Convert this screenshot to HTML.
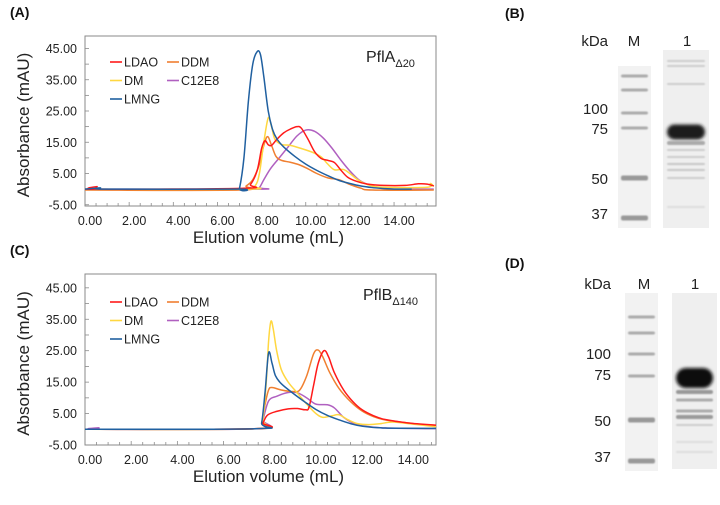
<!DOCTYPE html>
<html><head><meta charset="utf-8">
<style>
html,body{margin:0;padding:0;background:#fff;}
body{width:720px;height:505px;position:relative;overflow:hidden;font-family:"Liberation Sans",sans-serif;}
svg{position:absolute;left:0;top:0;}
</style></head>
<body>
<svg id="fig" width="720" height="505" viewBox="0 0 720 505">
<defs>
<filter id="blur1" x="-20%" y="-50%" width="140%" height="200%"><feGaussianBlur stdDeviation="0.8"/></filter>
<filter id="blur2" x="-20%" y="-80%" width="140%" height="260%"><feGaussianBlur stdDeviation="1.6"/></filter>
</defs>
<g id="chartA"></g>
<g id="chartC"></g>
<g id="gels"></g>
</svg>
<script>
// ---- data: panel A (PflA Δ20) ----
const seriesNames = ["LDAO","DDM","DM","C12E8","LMNG"];
const seriesColors = ["#ff1a1a","#f07f30","#ffd740","#b060c0","#2060a0"];
const xTicks = [0,2,4,6,8,10,12,14];
const yTicks = [-5,5,15,25,35,45];

const A_LDAO = [[0,0],[0.45,0],[0.55,0.8],[0.65,0],[7.2,0.3],[7.5,1.5],[7.8,6],[8.0,13],[8.15,15.5],[8.3,14.2],[8.45,14],[8.7,16],[9.0,18],[9.3,19.2],[9.6,20],[9.8,19.5],[10.1,16],[10.4,12],[10.7,9.8],[11.0,9.2],[11.3,8.5],[11.6,6],[11.9,3.8],[12.3,2.5],[12.8,1.6],[13.5,1.2],[14.5,1.2],[15.1,1.7],[15.5,1.6],[15.8,1.0]];
const A_DDM = [[0,-0.3],[7.0,-0.3],[7.3,1],[7.6,3],[7.9,8],[8.1,14],[8.27,16.8],[8.45,14],[8.65,10.5],[8.9,9.2],[9.3,8.6],[9.7,7.8],[10.1,6.5],[10.5,5],[11,3.6],[11.5,3],[12,1.5],[12.5,0.3],[13,-0.3],[15.8,-0.3]];
const A_DM = [[0,0],[7.3,0],[7.7,1],[7.9,5],[8.1,15],[8.3,22.8],[8.45,20],[8.6,16],[8.9,14.3],[9.3,14],[9.8,13],[10.3,11.8],[10.7,10.3],[11.0,8],[11.3,6.2],[11.7,6.3],[12.0,5],[12.4,2.8],[12.9,1.2],[13.5,0.6],[15.5,0.6],[15.65,1.8],[15.8,0.9]];
const A_C12E8 = [[0,0],[7.7,0],[7.9,0.5],[8.1,3],[8.4,6.5],[8.8,10],[9.2,13.5],[9.6,17],[10,18.9],[10.4,18.5],[10.8,16.3],[11.2,13],[11.6,9.2],[12,5.8],[12.4,3],[12.8,1.5],[13.3,0.5],[14,0],[15.8,0]];
const A_LMNG = [[0,0],[0.5,0.3],[0.7,0.4],[1,0],[6.9,0],[7.0,0.3],[7.2,10],[7.4,28],[7.6,40],[7.8,44],[7.95,43],[8.1,36],[8.3,25],[8.5,19],[8.7,16],[9,13.5],[9.5,10.5],[10,8],[10.5,6],[11,4.3],[11.5,2.8],[12,1.8],[12.5,1],[13,0.5],[13.5,0.2],[14,0],[14.8,0]];

// ---- data: panel C (PflB Δ140) ----
const C_LDAO = [[0,0],[7.5,0.2],[7.7,2],[7.9,4.5],[8.3,5.7],[8.8,6.5],[9.2,6.6],[9.55,6.2],[9.7,7],[9.9,14],[10.1,21],[10.35,25],[10.55,23],[10.8,18],[11.2,12.5],[11.6,8.8],[12,6.2],[12.5,4.3],[13,3.1],[14,2],[15.2,1.3]];
const C_DDM = [[0,0],[7.5,0.2],[7.65,2],[7.8,8],[7.95,12.5],[8.1,13.3],[8.5,12.5],[9,12],[9.3,12.5],[9.6,17],[9.9,24],[10.1,25.2],[10.3,23],[10.6,18],[11,13],[11.5,8.8],[12,5.8],[12.5,4],[13,3],[14,2],[15.2,1]];
const C_DM = [[0,0],[7.5,0.2],[7.7,3],[7.85,15],[7.95,28],[8.05,34.3],[8.15,32],[8.3,25],[8.5,19],[8.8,15],[9.2,11.5],[9.6,8],[10,5],[10.3,3.8],[10.7,4.3],[11.0,4.6],[11.4,3],[11.8,1.8],[12.3,1.5],[12.8,1.8],[13.3,2.3],[14,1.8],[15.2,0.8]];
const C_C12E8 = [[0,0],[0.55,0.1],[0.6,0.5],[0.65,0],[7.5,0.2],[7.7,3],[7.95,9],[8.3,10.5],[8.8,11.7],[9.2,11.6],[9.6,10],[10,8],[10.5,7.8],[10.8,6.8],[11.2,3.8],[11.6,2],[12,1.1],[13,0.4],[15.2,0.2]];
const C_LMNG = [[0,0],[7.5,0.2],[7.65,2],[7.8,12],[7.95,24.3],[8.1,21],[8.25,17],[8.5,14.5],[9,11.5],[9.5,8.8],[10,6.3],[10.5,4.4],[11,3],[11.5,1.8],[12,1],[13,0.4],[15.2,0.3]];

const NS="http://www.w3.org/2000/svg";
function mk(tag, attrs, parent){const e=document.createElementNS(NS,tag);for(const k in attrs)e.setAttribute(k,attrs[k]);parent.appendChild(e);return e;}
function smooth(pts){
  let d="M"+pts[0][0].toFixed(2)+","+pts[0][1].toFixed(2);
  for(let i=0;i<pts.length-1;i++){
    const p0=pts[Math.max(0,i-1)],p1=pts[i],p2=pts[i+1],p3=pts[Math.min(pts.length-1,i+2)];
    const c1=[p1[0]+(p2[0]-p0[0])/6,p1[1]+(p2[1]-p0[1])/6];
    const c2=[p2[0]-(p3[0]-p1[0])/6,p2[1]-(p3[1]-p1[1])/6];
    d+=" C"+c1[0].toFixed(2)+","+c1[1].toFixed(2)+" "+c2[0].toFixed(2)+","+c2[1].toFixed(2)+" "+p2[0].toFixed(2)+","+p2[1].toFixed(2);
  }
  return d;
}

function drawChart(g, cfg){
  const L=85,R=436,T=cfg.top,B=cfg.bottom;
  const sx=v=>L+(v-cfg.xmin)/(cfg.xmax-cfg.xmin)*(R-L);
  const sy=v=>B-(v-cfg.ymin)/(cfg.ymax-cfg.ymin)*(B-T);
  const pl=mk("text",{x:10,y:T-19,"font-size":"14","font-weight":"bold",fill:"#111"},g);
  pl.textContent=cfg.panel;
  
  
  const frame=mk("rect",{x:L,y:T,width:R-L,height:B-T,fill:"#fff",stroke:"#8a8a8a","stroke-width":"1"},g);
  
  
  // x ticks
  for(let v=0;v<=cfg.xmax+1e-6;v+=0.5){
    const x=sx(v);
    mk("line",{x1:x,y1:B,x2:x,y2:B-(Math.abs(v-Math.round(v/2)*2)<1e-6?4:3),stroke:"#8a8a8a","stroke-width":"0.8"},g);
  }
  xTicks.forEach(v=>{
    const t=mk("text",{x:sx(v)+5,y:B+19,"font-size":"12.5","text-anchor":"middle",fill:"#222"},g);
    t.textContent=v.toFixed(2);
    
    
  });
  for(let v=-5;v<=45;v+=5){
    const y=sy(v);
    mk("line",{x1:L,y1:y,x2:L+4,y2:y,stroke:"#8a8a8a","stroke-width":"0.8"},g);
  }
  yTicks.forEach(v=>{
    const t=mk("text",{x:L-8,y:sy(v)+4.5,"font-size":"12.5","text-anchor":"end",fill:"#222"},g);
    t.textContent=v.toFixed(2);
    
    
  });
  const xt=mk("text",{x:(L+R)/2+8,y:B+37,"font-size":"17","text-anchor":"middle",fill:"#222"},g);
  xt.textContent="Elution volume (mL)";
  
  
  const yc=(T+B)/2;
  const yt=mk("text",{x:0,y:0,"font-size":"17","text-anchor":"middle",fill:"#222",transform:"translate(29,"+(yc+4)+") rotate(-90)"},g);
  yt.textContent="Absorbance (mAU)";
  
  
  // series
  const order=[3,1,2,0,4];
  order.forEach(i=>{
    const pts=cfg.series[i].map(p=>[sx(Math.min(p[0],cfg.xmax)),sy(p[1])]);
    const p=mk("path",{d:smooth(pts),fill:"none",stroke:seriesColors[i],"stroke-width":"1.5","stroke-linejoin":"round"},g);
    
    
  });
  // legend
  const lx=[110,167,110,167,110], ly=[0,0,1,1,2];
  seriesNames.forEach((n,i)=>{
    const y=cfg.legTop+ly[i]*18.5;
    const ln=mk("line",{x1:lx[i],y1:y,x2:lx[i]+12,y2:y,stroke:seriesColors[i],"stroke-width":"1.6"},g);
    
    
    const t=mk("text",{x:lx[i]+14,y:y+4.5,"font-size":"12.5",fill:"#222"},g);
    t.textContent=n;
    
    
  });
  const title=mk("text",{x:cfg.titleX,y:T+26,"font-size":"16",fill:"#222"},g);
  title.innerHTML=cfg.title+'<tspan font-size="11" dy="5">'+cfg.sub+'</tspan>';
  
  
}

drawChart(document.getElementById("chartA"),{panel:"(A)",top:36,bottom:206,xmin:0,xmax:15.9,ymin:-5.4,ymax:49.0,
  series:[A_LDAO,A_DDM,A_DM,A_C12E8,A_LMNG],legTop:62,title:"PflA",sub:"Δ20",titleX:366});
drawChart(document.getElementById("chartC"),{panel:"(C)",top:274,bottom:445,xmin:0,xmax:15.2,ymin:-5,ymax:49.4,
  series:[C_LDAO,C_DDM,C_DM,C_C12E8,C_LMNG],legTop:302,title:"PflB",sub:"Δ140",titleX:363});

// ---- gels ----
const gelMarkers = ["100","75","50","37"];
const gB_markerBands=[76,90,113,128,178,218];
const gD_markerBands=[317,333,354,376,420,461];
function drawGel(g,c){
  const pl=mk("text",{x:c.px,y:c.py,"font-size":"14","font-weight":"bold",fill:"#111"},g);
  pl.textContent=c.panel;
  
  
  [["kDa",c.kx,"end"],["M",c.mx,"middle"],["1",c.ox,"middle"]].forEach(a=>{
    const t=mk("text",{x:a[1],y:c.hy,"font-size":"15","text-anchor":a[2],fill:"#222"},g);
    t.textContent=a[0];
    
    
  });
  gelMarkers.forEach((m,i)=>{
    const t=mk("text",{x:c.kx,y:c.my[i]+6,"font-size":"15","text-anchor":"end",fill:"#222"},g);
    t.textContent=m;
    
    
  });
  const lm=mk("rect",{x:c.m[0],y:c.m[1],width:c.m[2],height:c.m[3],fill:"#f2f2f2"},g);
  
  
  const l1=mk("rect",{x:c.l[0],y:c.l[1],width:c.l[2],height:c.l[3],fill:"#efefef"},g);
  
  
  c.mb.forEach((y,i)=>{
    const h=i>=4?5:3;
    mk("rect",{x:c.m[0]+3,y:y-h/2,width:c.m[2]-6,height:h,rx:2,fill:i>=4?"#999":"#aaa",filter:"url(#blur1)"},g);
  });
  c.sb.forEach(b=>{
    mk("rect",{x:c.l[0]+4,y:b[0]-b[1]/2,width:c.l[2]-8,height:b[1],rx:b[1]/2,fill:b[2],filter:"url("+(b[1]>8?"#blur2":"#blur1")+")"},g);
  });
}
const gels=document.getElementById("gels");
drawGel(gels,{panel:"(B)",px:505,py:18,kx:608,mx:634,ox:687,hy:46,my:[108,128,178,213],
  m:[618,66,33,162],l:[663,50,46,178],mb:gB_markerBands,
  sb:[[61,2,"#ccc"],[66,2,"#ccc"],[84,2,"#ccc"],[132,15,"#1a1a1a"],[143,4,"#aaa"],[150,2,"#ccc"],[157,2,"#ccc"],[164,2,"#c8c8c8"],[170,2,"#c8c8c8"],[178,2,"#ccc"],[207,2,"#ddd"]]});
drawGel(gels,{panel:"(D)",px:505,py:268,kx:611,mx:644,ox:695,hy:289,my:[353,374,420,456],
  m:[625,293,33,178],l:[672,293,45,176],mb:gD_markerBands,
  sb:[[378,20,"#111"],[392,4,"#999"],[400,3,"#aaa"],[411,3,"#aaa"],[417,4,"#9a9a9a"],[425,2,"#ccc"],[442,2,"#ddd"],[452,2,"#ddd"]]});
</script>
</body></html>
